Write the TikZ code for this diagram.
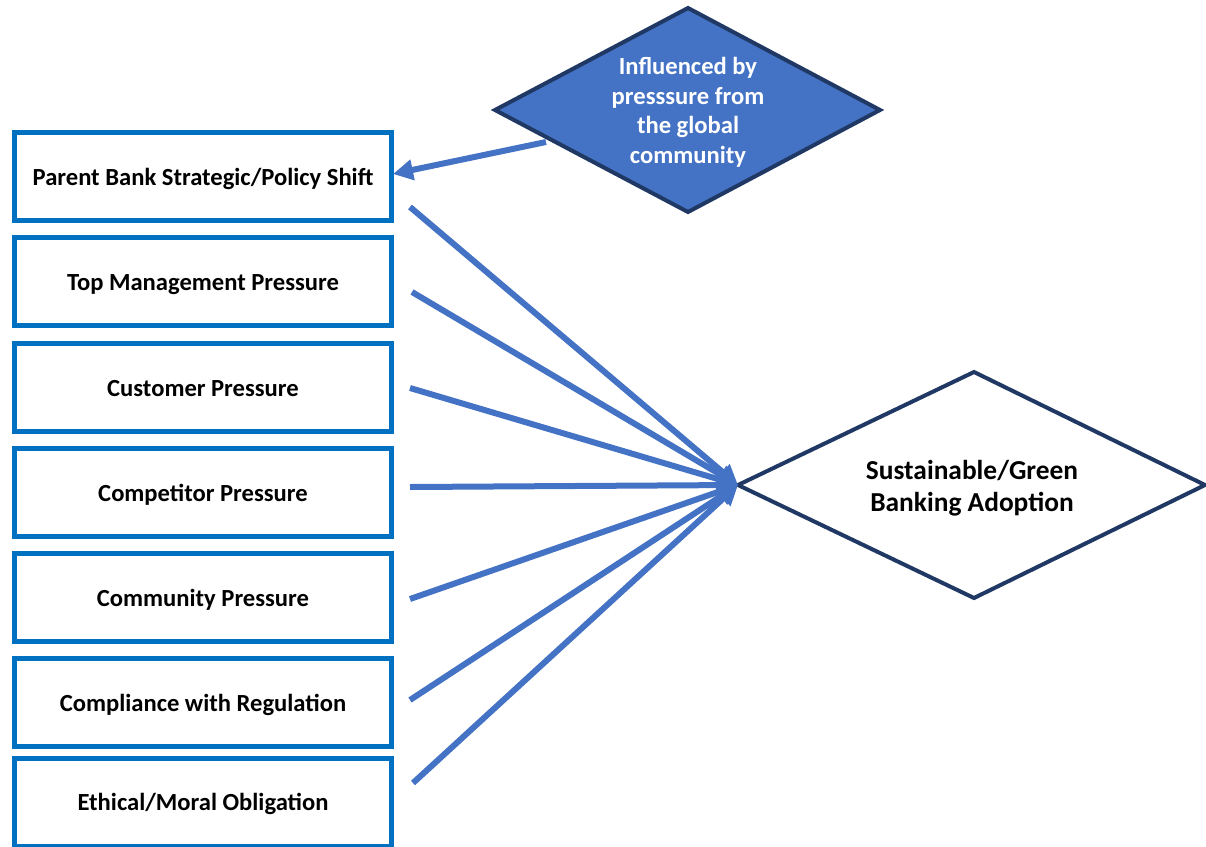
\documentclass[tikz,border=0pt]{standalone}
\usepackage{fontspec}
\setmainfont{Carlito}
\usetikzlibrary{arrows.meta}
\definecolor{boxblue}{HTML}{0070C0}
\definecolor{arrblue}{HTML}{4472C4}
\definecolor{navyline}{HTML}{1F3864}
\begin{document}
\begin{tikzpicture}[x=1pt,y=-1pt,
  box/.style={draw=boxblue, line width=5pt, fill=white, minimum width=377pt, minimum height=88pt, inner sep=0pt, text height=20pt, text depth=3pt, font=\fontsize{24.6}{29}\selectfont\bfseries},
  arr/.style={draw=arrblue, line width=6pt, -{Triangle[length=20pt,width=20pt]}},
  dia/.style={draw=navyline, line width=4pt, line join=miter},
  dtext/.style={align=center, inner sep=0pt}]
\useasboundingbox (0,0) rectangle (1206,846);
\clip (0,0) rectangle (1206,846);
% boxes
\node[box] (b1) at (203,176.5) {Parent Bank Strategic/Policy Shift};
\node[box] (b2) at (203,281.5) {Top Management Pressure};
\node[box] (b3) at (203,387.5) {Customer Pressure};
\node[box] (b4) at (203,492.5) {Competitor Pressure};
\node[box] (b5) at (203,597.5) {Community Pressure};
\node[box] (b6) at (203,702.5) {Compliance with Regulation};
\node[box] (b7) at (203,802) {Ethical/Moral Obligation};
% top diamond
\coordinate (d1w) at (495,110);
\coordinate (d1n) at (688,8);
\coordinate (d1e) at (880,110);
\coordinate (d1s) at (688,212);
\draw[dia, fill=arrblue] (d1w) -- (d1n) -- (d1e) -- (d1s) -- cycle;
\node[dtext, text=white, font=\fontsize{24.6}{29.5}\selectfont\bfseries] (d1) at (688,112.5) {Influenced by\\presssure from\\the global\\community};
% target diamond
\coordinate (d2w) at (738,485);
\coordinate (d2n) at (974,372);
\coordinate (d2e) at (1205,485);
\coordinate (d2s) at (974,598);
\draw[dia, fill=white] (d2w) -- (d2n) -- (d2e) -- (d2s) -- cycle;
\node[dtext, font=\fontsize{27.4}{32}\selectfont\bfseries] (d2) at (972,488) {Sustainable/Green\\Banking Adoption};
% arrow from top diamond
\coordinate (a0) at (546,142);
\coordinate (t0) at (393,174);
\draw[arr] (a0) -- (t0);
% arrows into target
\coordinate (s1) at (410,207);
\coordinate (s2) at (412,292);
\coordinate (s3) at (410,388);
\coordinate (s4) at (410,487);
\coordinate (s5) at (410,599);
\coordinate (s6) at (410,700);
\coordinate (s7) at (413,783);
\foreach \s in {s1,s2,s3,s4,s5,s6,s7}
  \draw[arr] (\s) -- (d2w);
\end{tikzpicture}
\end{document}
